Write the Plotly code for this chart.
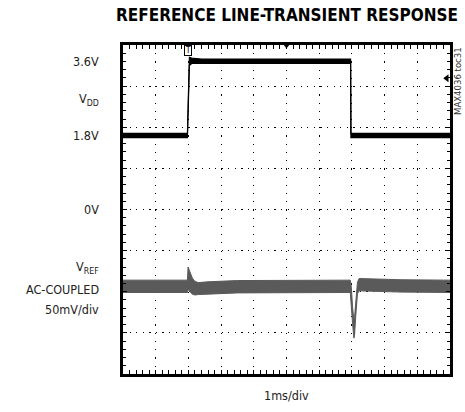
import plotly.graph_objects as go

# ---------------- data ----------------
# VDD trace (volts), time in ms; upper/lower envelope of the noisy trace
vdd_t  = [0, 1.97, 2.03, 2.10, 2.40, 6.96, 6.97, 10]
vdd_hi = [1.85, 1.85, 3.70, 3.68, 3.66, 3.66, 1.85, 1.85]
vdd_lo = [1.75, 1.75, 3.50, 3.55, 3.55, 3.55, 1.75, 1.75]

# VREF trace (mV, AC-coupled), envelope of the noise band
ref_t  = [0, 1.97, 1.99, 2.05, 2.12, 2.20, 2.30, 2.60, 3.50, 6.95,
          6.98, 7.02, 7.06, 7.08, 7.12, 7.17, 7.22, 7.50, 8.50, 10]
ref_hi = [7.5, 7.5, 23.5, 17, 10, 6, 4.5, 5.5, 7, 7.5,
          0, -25, -41, -38, -15, 5, 9.5, 9, 8, 7.5]
ref_lo = [-7.5, -7.5, -4, -7, -9.5, -10.5, -10, -9.5, -8, -7.5,
          -20, -45, -63, -60, -35, -9, -5.5, -6, -7, -7.5]

x_range = [0, 10]            # ms (1 ms/div)
vdd_range = [-4, 4]          # V (1 V/div)
ref_range = [-106.6, 293.4]  # mV (50 mV/div)

trig_level = 3.19            # V, trigger-level marker
trig_time = 5.0              # ms, trigger position marker

title = "REFERENCE LINE-TRANSIENT RESPONSE"
left_labels = [("3.6V", 3.6), ("V<sub>DD</sub>", 2.68), ("1.8V", 1.8), ("0V", 0.0),
               ("V<sub>REF</sub>", -1.42), ("AC-COUPLED", -1.95), ("50mV/div", -2.43)]

FONT = "Liberation Sans Narrow, DejaVu Sans Condensed, Arial Narrow, Liberation Sans, sans-serif"

fig = go.Figure()

# VDD envelope
fig.add_trace(go.Scatter(x=vdd_t, y=vdd_lo, mode="lines",
                         line=dict(color="#000", width=1.2), hoverinfo="skip"))
fig.add_trace(go.Scatter(x=vdd_t, y=vdd_hi, mode="lines", fill="tonexty",
                         fillcolor="#000", line=dict(color="#000", width=1.2),
                         hoverinfo="skip"))
# VREF envelope
fig.add_trace(go.Scatter(x=ref_t, y=ref_lo, mode="lines", yaxis="y2",
                         line=dict(color="#5a5a5a", width=1), hoverinfo="skip"))
fig.add_trace(go.Scatter(x=ref_t, y=ref_hi, mode="lines", yaxis="y2", fill="tonexty",
                         fillcolor="#5a5a5a", line=dict(color="#5a5a5a", width=1),
                         hoverinfo="skip"))

# markers: trigger position (top) and trigger level (right)
fig.add_trace(go.Scatter(x=[trig_time], y=[vdd_range[1]], mode="markers",
                         marker=dict(symbol="triangle-down", size=7, color="#000"),
                         cliponaxis=False, hoverinfo="skip"))
fig.add_trace(go.Scatter(x=[x_range[1] - 0.1], y=[trig_level], mode="markers",
                         marker=dict(symbol="triangle-left", size=7, color="#000"),
                         cliponaxis=False, hoverinfo="skip"))

ax_common = dict(showline=True, linewidth=2.5, linecolor="#000", mirror="allticks",
                 ticks="inside", ticklen=4, tickwidth=1, tickcolor="#000",
                 showticklabels=False, zeroline=False, showgrid=True,
                 gridcolor="#000", gridwidth=1.2)

fig.update_layout(
    width=465, height=412,
    margin=dict(l=123, r=13, t=45, b=38),
    paper_bgcolor="white", plot_bgcolor="white",
    showlegend=False,
    font=dict(family=FONT, color="#222"),
    xaxis=dict(range=x_range, dtick=1, griddash="1.2px,7.02px",
               minor=dict(dtick=0.2, ticks="inside", ticklen=3, tickcolor="#000", showgrid=False),
               **ax_common),
    yaxis=dict(range=vdd_range, dtick=1, griddash="1.2px,5.38px",
               minor=dict(dtick=0.2, ticks="inside", ticklen=3, tickcolor="#000", showgrid=False),
               **ax_common),
    yaxis2=dict(range=ref_range, overlaying="y", visible=False),
)

ann = []
ann.append(dict(text="<b>" + title + "</b>", xref="paper", yref="paper",
                x=0.5, y=1, yshift=30, xanchor="center", yanchor="middle",
                showarrow=False, font=dict(size=17, color="#000")))
for txt, v in left_labels:
    ann.append(dict(text=txt, xref="paper", yref="y", x=0, y=v, xshift=-22,
                    xanchor="right", yanchor="middle", showarrow=False,
                    font=dict(size=12.5)))
ann.append(dict(text="1ms/div", xref="paper", yref="paper", x=0.5, y=0, yshift=-21,
                xanchor="center", yanchor="middle", showarrow=False, font=dict(size=12.5)))
ann.append(dict(text="MAX4036 toc31", xref="paper", yref="paper", x=1, y=1,
                xshift=7, xanchor="center", yanchor="top", textangle=-90,
                showarrow=False, font=dict(size=9.5, color="#333")))
ann.append(dict(text="T", xref="x", yref="y", x=2.0, y=3.86, showarrow=False,
                font=dict(size=8, color="#000"), bordercolor="#000", borderwidth=1,
                borderpad=0, bgcolor="white"))
fig.update_layout(annotations=ann)

fig.write_html("out.html", config={"displayModeBar": False},
               post_script="document.body.style.margin='0';")
